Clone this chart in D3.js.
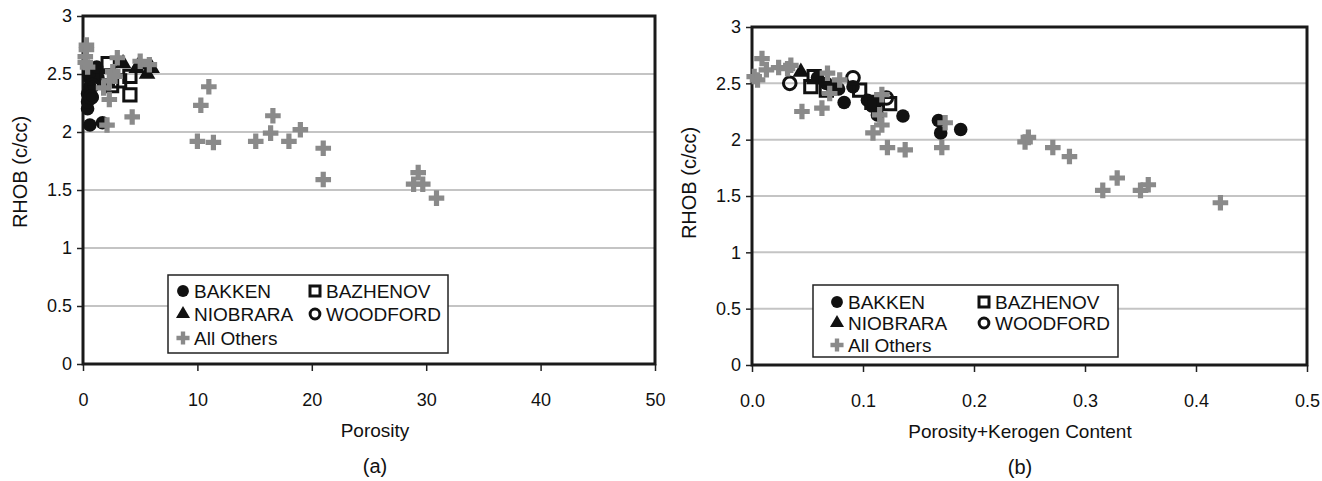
<!DOCTYPE html>
<html>
<head>
<meta charset="utf-8">
<script src="https://cdn.jsdelivr.net/npm/d3@7"></script>
<style>
  body { margin: 0; background: #fff; }
  svg text { font-family: Arial, "Liberation Sans", sans-serif; fill: #111; }
</style>
</head>
<body>
<script>
// ---- data, panel (a): porosity vs RHOB
var bakkenA   = [[0.6,2.06],[0.4,2.20],[0.4,2.26],[0.4,2.33],[0.6,2.39],[0.6,2.46],[1.0,2.53],[1.7,2.08],[1.3,2.47],[0.8,2.30],[0.5,2.50],[1.2,2.56]];
var bazhenovA = [[2.2,2.59],[2.1,2.46],[3.2,2.44],[4.1,2.48],[4.1,2.32],[2.5,2.40]];
var niobraraA = [[3.5,2.59],[4.7,2.55],[4.9,2.58],[5.6,2.50],[6.0,2.55]];
var woodfordA = [[0.8,2.40],[0.7,2.30]];
var othersA   = [[0.3,2.71],[0.2,2.65],[0.4,2.56],[0.2,2.60],[0.3,2.75],[3.0,2.64],[2.6,2.52],[2.3,2.44],[2.3,2.28],[2.1,2.06],
                 [4.3,2.13],[5.0,2.61],[5.8,2.58],[2.8,2.48],[1.8,2.38],[11.0,2.39],[10.3,2.23],[10.0,1.92],[11.4,1.91],[15.1,1.92],
                 [16.4,1.99],[16.6,2.14],[18.0,1.92],[19.0,2.02],[21.0,1.86],[21.0,1.59],[29.3,1.65],[28.9,1.55],[29.7,1.55],[30.9,1.43]];

// ---- data, panel (b): porosity + kerogen vs RHOB
var bakkenB   = [[0.059,2.55],[0.067,2.50],[0.072,2.47],[0.083,2.33],[0.091,2.47],[0.104,2.35],[0.112,2.33],[0.113,2.22],
                 [0.136,2.21],[0.168,2.17],[0.170,2.06],[0.188,2.09],[0.078,2.45],[0.108,2.30]];
var bazhenovB = [[0.056,2.56],[0.053,2.47],[0.067,2.44],[0.097,2.44],[0.108,2.33],[0.124,2.32]];
var niobraraB = [[0.044,2.60]];
var woodfordB = [[0.034,2.50],[0.091,2.55],[0.121,2.37]];
var othersB   = [[0.002,2.56],[0.009,2.72],[0.013,2.62],[0.005,2.53],[0.024,2.64],[0.035,2.66],[0.032,2.63],[0.045,2.25],
                 [0.063,2.28],[0.068,2.59],[0.070,2.41],[0.079,2.53],[0.117,2.40],[0.115,2.22],[0.117,2.13],[0.109,2.06],
                 [0.122,1.93],[0.138,1.91],[0.171,1.93],[0.174,2.15],[0.246,1.98],[0.249,2.02],[0.271,1.93],[0.286,1.85],
                 [0.316,1.55],[0.329,1.66],[0.350,1.55],[0.357,1.60],[0.422,1.44]];

var yTicks = [0, 0.5, 1, 1.5, 2, 2.5, 3];
var xTicksA = [0, 10, 20, 30, 40, 50];
var xTicksB = [0, 0.1, 0.2, 0.3, 0.4, 0.5];
var legendNames = ['BAKKEN', 'BAZHENOV', 'NIOBRARA', 'WOODFORD', 'All Others'];

var svg = d3.select('body').append('svg')
  .attr('width', 1322)
  .attr('height', 481);

var gray = '#8a8a8a';

function drawPanel(p) {
  var x = d3.scaleLinear().domain([p.xTicks[0], p.xTicks[p.xTicks.length - 1]]).range([p.left, p.right]);
  var y = d3.scaleLinear().domain([0, 3]).range([p.bottom, p.top]);
  var g = svg.append('g');

  // grid
  g.selectAll('.grid').data(yTicks.slice(1, -1)).enter()
    .append('line')
    .attr('x1', p.left).attr('x2', p.right)
    .attr('y1', d => y(d)).attr('y2', d => y(d))
    .attr('stroke', '#c4c4c4').attr('stroke-width', 2);

  // axes
  var yAxis = d3.axisLeft(y).tickValues(yTicks).tickSize(6).tickPadding(5).tickFormat(d3.format(''));
  var xAxis = d3.axisBottom(x).tickValues(p.xTicks).tickSize(7).tickPadding(22).tickFormat(p.fmt);
  var ya = g.append('g').attr('transform', 'translate(' + p.left + ',0)').call(yAxis);
  var xa = g.append('g').attr('transform', 'translate(0,' + p.bottom + ')').call(xAxis);
  [ya, xa].forEach(a => {
    a.select('.domain').remove();
    a.selectAll('line').attr('stroke', '#222').attr('stroke-width', 1.5);
    a.selectAll('text').attr('font-size', 18).attr('fill', '#111');
  });

  // frame
  g.append('rect')
    .attr('x', p.left).attr('y', p.top)
    .attr('width', p.right - p.left).attr('height', p.bottom - p.top)
    .attr('fill', 'none').attr('stroke', '#1a1a1a').attr('stroke-width', 3);

  // markers
  var sym = d3.symbol();
  var series = [
    { data: p.bakken,   type: d3.symbolCircle,   size: 145, fill: '#111', stroke: 'none', sw: 0 },
    { data: p.bazhenov, type: d3.symbolSquare,   size: 150, fill: 'none', stroke: '#111', sw: 3 },
    { data: p.niobrara, type: d3.symbolTriangle, size: 120, fill: '#111', stroke: 'none', sw: 0 },
    { data: p.woodford, type: d3.symbolCircle,   size: 125, fill: 'none', stroke: '#111', sw: 3 },
    { data: p.others,   type: d3.symbolCross,    size: 135, fill: gray,   stroke: 'none', sw: 0 }
  ];
  series.forEach(s => {
    g.append('g').selectAll('path').data(s.data).enter()
      .append('path')
      .attr('transform', d => 'translate(' + x(d[0]) + ',' + y(d[1]) + ')')
      .attr('d', sym.type(s.type).size(s.size)())
      .attr('fill', s.fill).attr('stroke', s.stroke).attr('stroke-width', s.sw);
  });

  // legend
  var L = p.legend;
  var lg = g.append('g');
  lg.append('rect')
    .attr('x', L.x).attr('y', L.y).attr('width', L.w).attr('height', L.h)
    .attr('fill', '#fff').attr('stroke', '#222').attr('stroke-width', 1.5);
  var cells = [
    { col: 0, row: 0, s: series[0], lsize: 110 },
    { col: 1, row: 0, s: series[1], lsize: 100 },
    { col: 0, row: 1, s: series[2], lsize: 85 },
    { col: 1, row: 1, s: series[3], lsize: 75 },
    { col: 0, row: 2, s: series[4], lsize: 95 }
  ];
  cells.forEach((c, i) => {
    var mx = c.col === 0 ? L.m1 : L.m2;
    var my = L.rows[c.row];
    lg.append('path')
      .attr('transform', 'translate(' + mx + ',' + my + ')')
      .attr('d', sym.type(c.s.type).size(c.lsize)())
      .attr('fill', c.s.fill).attr('stroke', c.s.stroke).attr('stroke-width', c.s.sw);
    lg.append('text')
      .attr('x', mx + 11).attr('y', my)
      .attr('dy', '0.36em')
      .attr('font-size', 19)
      .text(legendNames[i]);
  });

  // titles
  g.append('text')
    .attr('transform', 'translate(' + p.yTitleX + ',' + p.yTitleY + ') rotate(-90)')
    .attr('text-anchor', 'middle').attr('dy', '0.36em')
    .attr('font-size', 20)
    .text('RHOB (c/cc)');
  g.append('text')
    .attr('x', p.titleX).attr('y', p.bottom + 66)
    .attr('text-anchor', 'middle').attr('dy', '0.36em')
    .attr('font-size', 19)
    .text(p.xTitle);
  g.append('text')
    .attr('x', p.titleX).attr('y', p.bottom + 102)
    .attr('text-anchor', 'middle').attr('dy', '0.36em')
    .attr('font-size', 20)
    .text(p.tag);
}

drawPanel({
  left: 83, right: 655, top: 16, bottom: 364,
  xTicks: xTicksA, fmt: d3.format('d'),
  bakken: bakkenA, bazhenov: bazhenovA, niobrara: niobraraA, woodford: woodfordA, others: othersA,
  legend: { x: 168, y: 275, w: 280, h: 78, m1: 183, m2: 315, rows: [291, 314, 338] },
  yTitleX: 20, yTitleY: 172, titleX: 375, xTitle: 'Porosity', tag: '(a)'
});

drawPanel({
  left: 752, right: 1307, top: 27, bottom: 365,
  xTicks: xTicksB, fmt: d3.format('.1f'),
  bakken: bakkenB, bazhenov: bazhenovB, niobrara: niobraraB, woodford: woodfordB, others: othersB,
  legend: { x: 813, y: 285, w: 305, h: 72, m1: 837, m2: 984, rows: [302, 323, 345] },
  yTitleX: 689, yTitleY: 183, titleX: 1020, xTitle: 'Porosity+Kerogen Content', tag: '(b)'
});
</script>
</body>
</html>
